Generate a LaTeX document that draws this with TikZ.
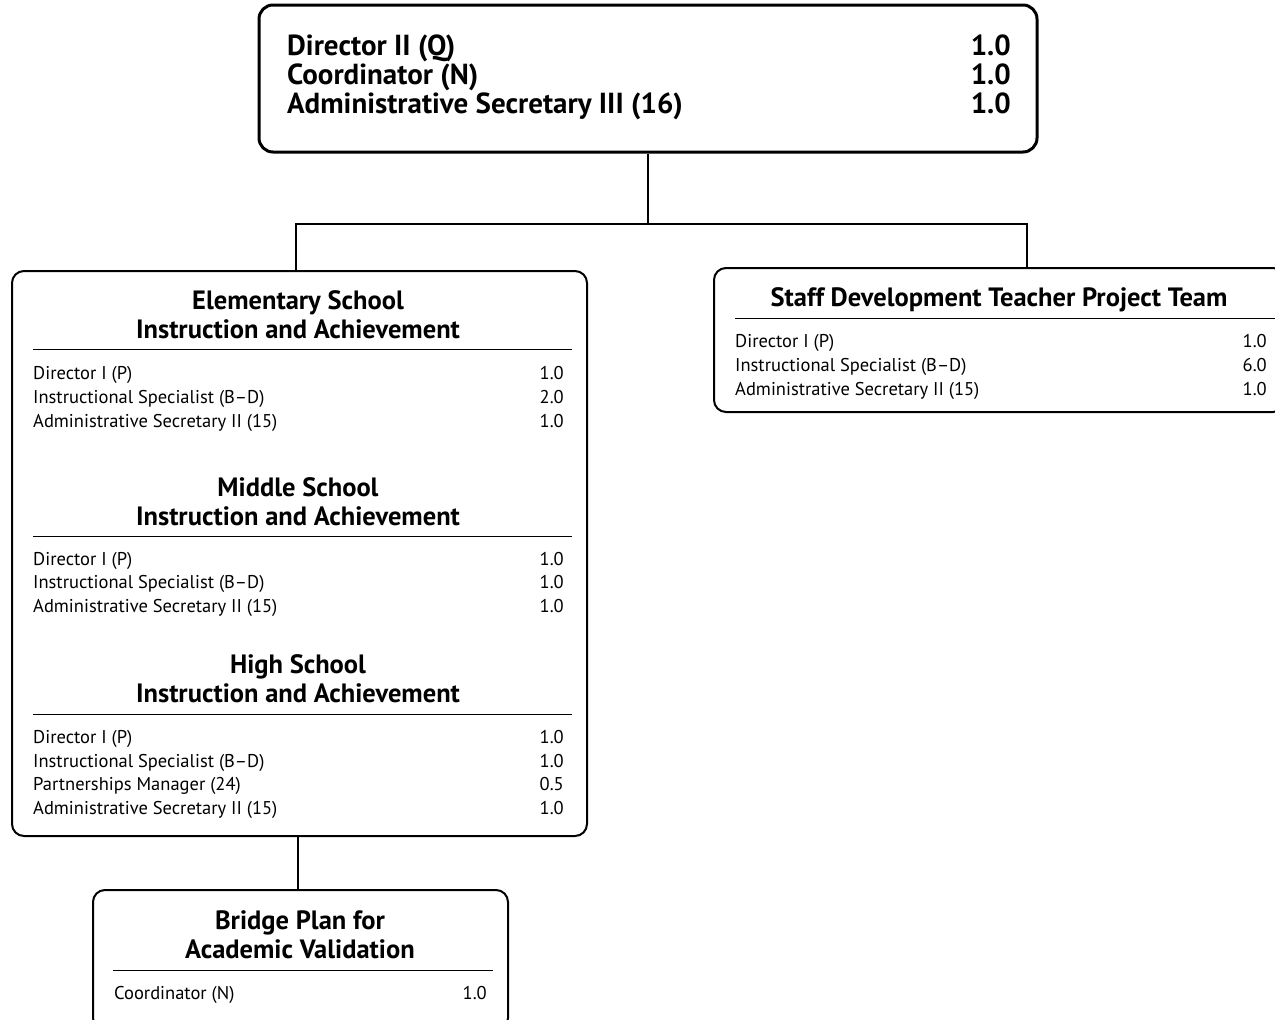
\documentclass[tikz,border=0pt]{standalone}
\usepackage{fontspec}
\setmainfont{PT Sans}
\begin{document}
\begin{tikzpicture}[x=1pt,y=-1pt,
  box/.style={draw, rounded corners=12pt, line width=2pt, inner sep=0pt},
  topbox/.style={box, line width=3pt, rounded corners=14pt},
  conn/.style={line width=1.5pt},
  rule/.style={line width=1pt},
  lab/.style={anchor=base west, inner sep=0pt, font=\fontsize{18.5}{20}\selectfont},
  num/.style={anchor=base east, inner sep=0pt, font=\fontsize{18.5}{20}\selectfont},
  ttl/.style={anchor=base, inner sep=0pt, font=\bfseries\fontsize{26.5}{30}\selectfont},
  toplab/.style={anchor=base west, inner sep=0pt, font=\bfseries\fontsize{29}{32}\selectfont},
  topnum/.style={anchor=base east, inner sep=0pt, font=\bfseries\fontsize{29}{32}\selectfont}]
\useasboundingbox (0,0) rectangle (1275,1020);
\clip (0,0) rectangle (1275,1020);
% boxes
\node[topbox, minimum width=778, minimum height=147] (top) at (648,78.5) {};
\node[box, minimum width=575, minimum height=565] (left) at (299.5,553.5) {};
\node[box, minimum width=571, minimum height=144] (right) at (999.5,340) {};
\node[box, minimum width=415, minimum height=140] (bot) at (300.5,960) {};
% connectors
\coordinate (j) at (648,224);
\coordinate (lj) at (296,224);
\coordinate (rj) at (1027,224);
\coordinate (bj) at (298,836);
\draw[conn] (top.south) -- (j);
\draw[conn] (lj |- left.north) -- (lj) -- (rj) -- (rj |- right.north);
\draw[conn] (bj |- left.south) -- (bj |- bot.north);
% top box text
\node[toplab] (t1) at (287,55) {Director II (Q)};
\node[toplab] (t2) at (287,84) {Coordinator (N)};
\node[toplab] (t3) at (287,113) {Administrative Secretary III (16)};
\node[topnum] (n1) at (1011,55) {1.0};
\node[topnum] (n2) at (1011,84) {1.0};
\node[topnum] (n3) at (1011,113) {1.0};
% left box: elementary
\node[ttl] (ea) at (298,309) {Elementary School};
\node[ttl] (eb) at (298,338) {Instruction and Achievement};
\draw[rule] (33,349) -- (572,349);
\node[lab] (e1) at (33,379) {Director I (P)};
\node[lab] (e2) at (33,403) {Instructional Specialist (B--D)};
\node[lab] (e3) at (33,427) {Administrative Secretary II (15)};
\node[num] (e1n) at (564,379) {1.0};
\node[num] (e2n) at (564,403) {2.0};
\node[num] (e3n) at (564,427) {1.0};
% middle
\node[ttl] (ma) at (298,496) {Middle School};
\node[ttl] (mb) at (298,525) {Instruction and Achievement};
\draw[rule] (33,536) -- (572,536);
\node[lab] (m1) at (33,565) {Director I (P)};
\node[lab] (m2) at (33,588) {Instructional Specialist (B--D)};
\node[lab] (m3) at (33,612) {Administrative Secretary II (15)};
\node[num] (m1n) at (564,565) {1.0};
\node[num] (m2n) at (564,588) {1.0};
\node[num] (m3n) at (564,612) {1.0};
% high
\node[ttl] (ha) at (298,673) {High School};
\node[ttl] (hb) at (298,702) {Instruction and Achievement};
\draw[rule] (33,714) -- (572,714);
\node[lab] (h1) at (33,743) {Director I (P)};
\node[lab] (h2) at (33,767) {Instructional Specialist (B--D)};
\node[lab] (h3) at (33,790) {Partnerships Manager (24)};
\node[lab] (h4) at (33,814) {Administrative Secretary II (15)};
\node[num] (h1n) at (564,743) {1.0};
\node[num] (h2n) at (564,767) {1.0};
\node[num] (h3n) at (564,790) {0.5};
\node[num] (h4n) at (564,814) {1.0};
% right box
\node[ttl] (sa) at (999,306) {Staff Development Teacher Project Team};
\draw[rule] (735,318) -- (1275,318);
\node[lab] (s1) at (735,347) {Director I (P)};
\node[lab] (s2) at (735,371) {Instructional Specialist (B--D)};
\node[lab] (s3) at (735,395) {Administrative Secretary II (15)};
\node[num] (s1n) at (1267,347) {1.0};
\node[num] (s2n) at (1267,371) {6.0};
\node[num] (s3n) at (1267,395) {1.0};
% bottom box
\node[ttl] (ba) at (300,929) {Bridge Plan for};
\node[ttl] (bb) at (300,958) {Academic Validation};
\draw[rule] (113,970) -- (493,970);
\node[lab] (b1) at (114,999) {Coordinator (N)};
\node[num] (b1n) at (487,999) {1.0};
\end{tikzpicture}
\end{document}
